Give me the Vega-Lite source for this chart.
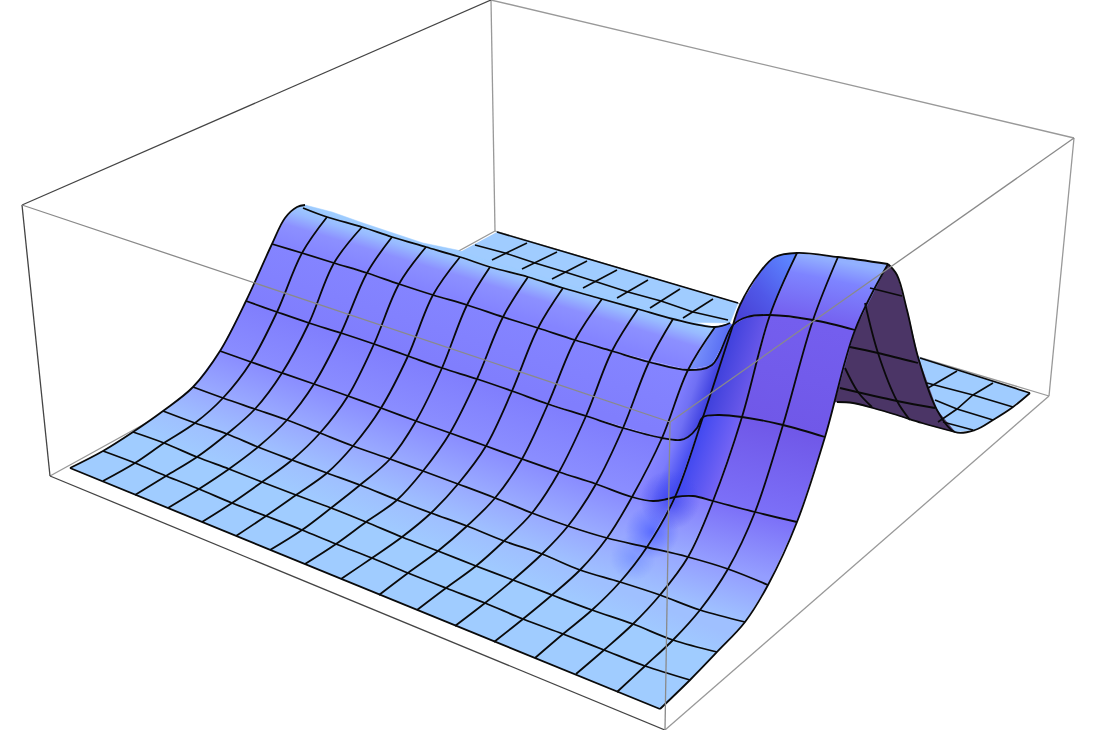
{"$schema":"https://vega.github.io/schema/vega-lite/v6.json","width":1095,"height":730,"padding":0,"autosize":{"type":"none"},"background":"white","config":{"view":{"stroke":null}},
"datasets":{
"cells":[
{"q":"bk","xs":[497,738,730,673,460],"ys":[232,303,323,322,252]},
{"q":"rf","xs":[918,1030,993,975,955,937],"ys":[357,393,420,430,432,410]},
{"q":"dk","xs":[888,897,907,918,937,955,922,897,873,853,837,825,840,870],"ys":[264,275,310,357,410,432,423,415,408,403,402,402,330,280]},
{"q":"cr","xs":[297,305,332,363,393,423,457,480,680,673,297],"ys":[207,205,212,223,233,243,250,258,318,321,208]},
{"q":"a02","xs":[70,236,417,660,690,717,552,402,262,133,103],"ys":[468,536,610,709,680,652,595,537,482,432,451]},
{"q":"a23","xs":[133,197,262,331,402,476,552,633,717,745,660,580,504,431,360,292,227,163],"ys":[432,457,482,508,537,566,595,624,652,622,595,570,541,513,485,460,434,411]},
{"q":"l34","xs":[163,227,292,360,431,504,580,607,532,458,390,320,255,193],"ys":[411,434,460,485,513,541,570,538,513,484,459,433,409,387]},
{"q":"l45","xs":[193,255,320,390,458,532,607,632,559,486,416,348,282,220],"ys":[387,409,433,459,484,513,538,497,472,446,421,396,373,351]},
{"q":"l56","xs":[220,282,348,416,486,559,632,662,586,512,442,374,309,246],"ys":[351,373,396,421,446,472,497,438,416,391,368,344,323,301]},
{"q":"l67","xs":[246,309,374,442,512,586,662,688,612,538,467,399,334,272],"ys":[301,323,344,368,391,416,438,370,351,328,305,284,263,244]},
{"q":"l78","xs":[272,334,399,467,538,612,688,715,638,563,490,426,362,305,297,285],"ys":[244,263,284,305,328,351,370,327,309,288,267,247,227,205,207,218]},
{"q":"r34","xs":[660,700,745,768,728,688],"ys":[595,610,622,585,569,557]},
{"q":"r45","xs":[688,728,768,797,755,713],"ys":[557,569,585,522,512,501]},
{"q":"r56","xs":[713,755,797,825,783,742],"ys":[501,512,522,437,425,417]},
{"q":"r67","xs":[742,783,825,855,813,770],"ys":[417,425,437,330,320,315]},
{"q":"r78","xs":[770,813,855,888,838,797],"ys":[315,320,330,264,257,253]},
{"q":"s34","xs":[580,620,647,607],"ys":[570,582,547,538]},
{"q":"s45","xs":[607,646,675,667,653,632],"ys":[538,547,497,499,501,497]},
{"q":"s56","xs":[632,653,667,675,703,697,688,680,662],"ys":[497,501,499,497,417,428,437,440,438]},
{"q":"s67","xs":[662,680,688,697,703,733,712,688],"ys":[438,440,437,428,417,325,365,370]},
{"q":"s78","xs":[688,712,733,730,715],"ys":[370,365,325,323,327]},
{"q":"t34","xs":[620,660,688,647],"ys":[582,595,557,547]},
{"q":"t45","xs":[647,688,713,693,675],"ys":[547,557,501,496,497]},
{"q":"t56","xs":[675,693,713,742,718,703],"ys":[497,496,501,417,415,417]},
{"q":"t67","xs":[703,718,742,770,747,733],"ys":[417,415,417,315,317,325]},
{"q":"t78","xs":[733,747,770,797,785,772,760,740],"ys":[325,317,315,253,254,258,272,305]},
{"q":"g1","xs":[640,700,700,640],"ys":[470,470,530,530]},
{"q":"g2","xs":[625,679,679,625],"ys":[505,505,559,559]},
{"q":"g3","xs":[610,656,656,610],"ys":[535,535,581,581]}
],
"mesh":[
{"l":"v0","xs":[70,660],"ys":[468,709]},
{"l":"v1","xs":[103,135,166,199,232,266,302,336,372,408,446,485,523,563,604,645,690],"ys":[451,463,476,489,503,516,530,544,558,573,588,603,619,634,650,666,680]},
{"l":"v2","xs":[133,164,197,229,262,296,331,366,402,438,476,513,552,592,633,673,717],"ys":[432,443,457,469,482,495,508,522,537,551,566,580,595,610,624,640,652]},
{"l":"v3","xs":[163,195,227,258,292,327,360,397,431,467,504,542,580,620,660,700,745],"ys":[411,423,434,447,460,473,485,500,513,526,541,554,570,582,595,610,622]},
{"l":"v4","xs":[193,223,255,287,320,353,390,423,458,495,532,568,607,646,688,728,768],"ys":[387,398,409,420,433,446,459,471,484,498,513,526,538,547,557,569,585]},
{"l":"v5","xs":[220,251,282,314,348,381,416,450,486,522,559,596,632,653,667,675,693,713,755,797],"ys":[351,362,373,384,396,408,421,433,446,459,472,484,497,501,499,497,496,501,512,522]},
{"l":"v6","xs":[246,277,309,341,374,408,442,477,512,548,586,623,662,680,688,697,703,718,742,783,825],"ys":[301,312,323,333,344,356,368,379,391,404,416,428,438,440,437,428,417,415,417,425,437]},
{"l":"v7","xs":[272,302,334,367,399,433,467,503,538,575,612,649,688,712,733,747,770,813,855],"ys":[244,253,263,273,284,295,305,317,328,340,351,362,370,365,325,317,315,320,330]},
{"l":"v8","xs":[303,327,362,392,426,460,490,528,563,602,638,673,715,730],"ys":[208,217,227,237,247,257,267,277,288,299,309,319,327,323]},
{"l":"u0","xs":[70,103,133,163,193,220,246,272,285,297,305],"ys":[468,451,432,411,387,351,301,244,218,207,205]},
{"l":"u1","xs":[103,135,164,195,223,251,277,302,327],"ys":[481,463,443,423,398,362,312,253,217]},
{"l":"u2","xs":[135,166,197,227,255,282,309,334,362],"ys":[495,476,457,434,409,373,323,263,227]},
{"l":"u3","xs":[168,199,229,258,287,314,341,367,392],"ys":[508,489,469,447,420,384,333,273,237]},
{"l":"u4","xs":[202,232,262,292,320,348,374,399,426],"ys":[522,503,482,460,433,396,344,284,247]},
{"l":"u5","xs":[236,266,296,327,353,381,408,433,460],"ys":[536,516,495,473,446,408,356,295,257]},
{"l":"u6","xs":[270,302,331,360,390,416,442,467,490],"ys":[550,530,508,485,459,421,368,305,267]},
{"l":"u7","xs":[305,336,366,397,423,450,477,503,528],"ys":[564,544,522,500,471,433,379,317,277]},
{"l":"u8","xs":[341,372,402,431,458,486,512,538,563],"ys":[579,558,537,513,484,446,391,328,288]},
{"l":"u9","xs":[379,408,438,467,495,522,548,575,602],"ys":[595,573,551,526,498,459,404,340,299]},
{"l":"u10","xs":[417,446,476,504,532,559,586,612,638],"ys":[610,588,566,541,513,472,416,351,309]},
{"l":"u11","xs":[455,485,513,542,568,596,623,649,673],"ys":[626,603,580,554,526,484,428,362,319]},
{"l":"u12","xs":[494,523,552,580,607,632,662,688,715],"ys":[642,619,595,570,538,497,438,370,327]},
{"l":"u13","xs":[535,563,592,620,647,675,703,733],"ys":[658,634,610,582,547,497,417,325]},
{"l":"u14","xs":[576,604,633,660,688,713,742,770,797],"ys":[674,650,624,595,557,501,417,315,253]},
{"l":"u15","xs":[617,645,673,700,728,755,783,813,838],"ys":[692,666,640,610,569,512,425,320,257]},
{"l":"u16","xs":[660,690,717,745,768,797,825,855,888],"ys":[709,680,652,622,585,522,437,330,264]},
{"l":"hump","xs":[733,740,760,775,797,838,888],"ys":[325,305,272,257,253,257,264]},
{"l":"backside","xs":[888,897,907,918,937,955,975,993,1013,1030],"ys":[264,275,310,357,410,432,430,420,407,393]},
{"l":"darkbase","xs":[837,853,873,897,922,955],"ys":[402,403,408,415,423,432]},
{"l":"d1","xs":[870,902],"ys":[288,296]},
{"l":"d2","xs":[850,878,918],"ys":[347,353,363]},
{"l":"d3","xs":[840,897,935],"ys":[388,401,408]},
{"l":"d4","xs":[865,878,897,910],"ys":[303,353,401,420]},
{"l":"d5","xs":[845,858,872],"ys":[368,392,407]}
],
"straight":[
{"l":"b0","xs":[497,738],"ys":[232,303]},
{"l":"b1","xs":[475,505,535,565,597,628,661,693,728],"ys":[245,253,263,272,282,292,301,312,320]},
{"l":"c1","xs":[527,492],"ys":[243,260]},
{"l":"c2","xs":[557,522],"ys":[252,269]},
{"l":"c3","xs":[587,552],"ys":[261,279]},
{"l":"c4","xs":[617,583],"ys":[270,288]},
{"l":"c5","xs":[648,617],"ys":[280,298]},
{"l":"c6","xs":[680,650],"ys":[289,308]},
{"l":"c7","xs":[713,683],"ys":[299,318]},
{"l":"f0","xs":[920,1030],"ys":[358,393]},
{"l":"f1","xs":[927,973,1013],"ys":[383,395,407]},
{"l":"f2","xs":[935,957,993],"ys":[400,409,420]},
{"l":"f3","xs":[943,973],"ys":[422,430]},
{"l":"g1","xs":[957,928],"ys":[371,388]},
{"l":"g2","xs":[993,973,957,938],"ys":[383,395,409,422]}
],
"box":[
{"e":"a","g":"back","x":491,"y":0},{"e":"a","g":"back","x":1074,"y":138},
{"e":"b","g":"back","x":491,"y":0},{"e":"b","g":"back","x":495,"y":231},
{"e":"c","g":"back","x":495,"y":231},{"e":"c","g":"back","x":50,"y":476},
{"e":"d","g":"back","x":495,"y":231},{"e":"d","g":"back","x":1049,"y":396},
{"e":"f","g":"back","x":1074,"y":138},{"e":"f","g":"back","x":1049,"y":396},
{"e":"h","g":"back","x":665,"y":730},{"e":"h","g":"back","x":1049,"y":396},
{"e":"i","g":"dark","x":491,"y":0},{"e":"i","g":"dark","x":22,"y":205},
{"e":"j","g":"dark","x":22,"y":205},{"e":"j","g":"dark","x":50,"y":476},
{"e":"k","g":"dark","x":50,"y":476},{"e":"k","g":"dark","x":665,"y":730},
{"e":"m","g":"front","x":22,"y":205},{"e":"m","g":"front","x":670,"y":422},
{"e":"n","g":"front","x":670,"y":422},{"e":"n","g":"front","x":1074,"y":138},
{"e":"o","g":"front","x":670,"y":422},{"e":"o","g":"front","x":665,"y":730}
]},
"encoding":{"x":{"field":"x","type":"quantitative","scale":{"domain":[0,1095],"nice":false,"zero":false},"axis":null},"y":{"field":"y","type":"quantitative","scale":{"domain":[730,0],"nice":false,"zero":false},"axis":null}},
"layer":[
{"data":{"name":"box"},"transform":[{"filter":{"field":"g","equal":"back"}}],"mark":{"type":"line","stroke":"#999999","strokeWidth":1.3},"encoding":{"detail":{"field":"e"}}},
{"data":{"name":"box"},"transform":[{"filter":{"field":"g","equal":"dark"}}],"mark":{"type":"line","stroke":"#444444","strokeWidth":1.3},"encoding":{"detail":{"field":"e"}}},
{"data":{"name":"cells"},"transform":[{"flatten":["xs","ys"],"as":["x","y"]},{"window":[{"op":"row_number","as":"i"}],"groupby":["q"]}],
"encoding":{"detail":{"field":"q"},"order":{"field":"i","type":"quantitative"}},
"layer":[
{"transform":[{"filter":{"field":"q","equal":"bk"}}],"mark":{"type":"line","fill":"#A0CCFF","stroke":"#A0CCFF","strokeWidth":0.5}},
{"transform":[{"filter":{"field":"q","equal":"rf"}}],"mark":{"type":"line","fill":"#A0CCFF","stroke":"#A0CCFF","strokeWidth":0.5}},
{"transform":[{"filter":{"field":"q","equal":"dk"}}],"mark":{"type":"line","fill":"#4B3566","stroke":"#4B3566","strokeWidth":0.5}},
{"transform":[{"filter":{"field":"q","equal":"cr"}}],"mark":{"type":"line","fill":"#9ECCFF","stroke":"#9ECCFF","strokeWidth":0.5}},
{"transform":[{"filter":{"field":"q","equal":"a02"}}],"mark":{"type":"line","fill":"#A0CCFF","stroke":"#A0CCFF","strokeWidth":0.5}},
{"transform":[{"filter":{"field":"q","equal":"a23"}}],"mark":{"type":"line","strokeWidth":0,"fill":{"gradient":"linear","x1":0,"y1":0.087,"x2":0.068,"y2":0.019,"stops":[{"offset":0,"color":"#A0CBFF"},{"offset":1,"color":"#9FC0FF"}]}}},
{"transform":[{"filter":{"field":"q","equal":"l34"}}],"mark":{"type":"line","strokeWidth":0,"fill":{"gradient":"linear","x1":0,"y1":0.131,"x2":0.096,"y2":0.025,"stops":[{"offset":0,"color":"#9FC0FF"},{"offset":1,"color":"#99AAFF"}]}}},
{"transform":[{"filter":{"field":"q","equal":"l45"}}],"mark":{"type":"line","strokeWidth":0,"fill":{"gradient":"linear","x1":0,"y1":0.1925,"x2":0.1205,"y2":0.05,"stops":[{"offset":0,"color":"#99AAFF"},{"offset":1,"color":"#8A8DFF"}]}}},
{"transform":[{"filter":{"field":"q","equal":"l56"}}],"mark":{"type":"line","strokeWidth":0,"fill":{"gradient":"linear","x1":0,"y1":0.255,"x2":0.145,"y2":0.0665,"stops":[{"offset":0,"color":"#8A8DFF"},{"offset":1,"color":"#807EFD"}]}}},
{"transform":[{"filter":{"field":"q","equal":"l67"}}],"mark":{"type":"line","strokeWidth":0,"fill":{"gradient":"linear","x1":0,"y1":0.294,"x2":0.159,"y2":0.073,"stops":[{"offset":0,"color":"#807EFD"},{"offset":1,"color":"#8484FF"}]}}},
{"transform":[{"filter":{"field":"q","equal":"l78"}}],"mark":{"type":"line","strokeWidth":0,"fill":{"gradient":"linear","x1":0,"y1":0.232,"x2":0.135,"y2":0.063,"stops":[{"offset":0,"color":"#8484FF"},{"offset":0.5,"color":"#8C90FF"},{"offset":0.8,"color":"#98BAFF"},{"offset":1,"color":"#9ECBFF"}]}}},
{"transform":[{"filter":{"field":"q","equal":"r34"}}],"mark":{"type":"line","strokeWidth":0,"fill":{"gradient":"linear","x1":0,"y1":0.585,"x2":0.285,"y2":0.013,"stops":[{"offset":0,"color":"#9FC0FF"},{"offset":1,"color":"#949EFF"}]}}},
{"transform":[{"filter":{"field":"q","equal":"r45"}}],"mark":{"type":"line","strokeWidth":0,"fill":{"gradient":"linear","x1":0,"y1":0.667,"x2":0.226,"y2":0,"stops":[{"offset":0,"color":"#949EFF"},{"offset":1,"color":"#7C70F8"}]}}},
{"transform":[{"filter":{"field":"q","equal":"r56"}}],"mark":{"type":"line","strokeWidth":0,"fill":{"gradient":"linear","x1":0,"y1":0.8,"x2":0.217,"y2":-0.011,"stops":[{"offset":0,"color":"#7C70F8"},{"offset":1,"color":"#7058E8"}]}}},
{"transform":[{"filter":{"field":"q","equal":"r67"}}],"mark":{"type":"line","strokeWidth":0,"fill":{"gradient":"linear","x1":0,"y1":0.836,"x2":0.189,"y2":-0.013,"stops":[{"offset":0,"color":"#7058E8"},{"offset":1,"color":"#745EEE"}]}}},
{"transform":[{"filter":{"field":"q","equal":"r78"}}],"mark":{"type":"line","strokeWidth":0,"fill":{"gradient":"linear","x1":0,"y1":0.805,"x2":0.245,"y2":0.005,"stops":[{"offset":0,"color":"#745EEE"},{"offset":0.7,"color":"#7E84FF"},{"offset":1,"color":"#92B0FF"}]}}},
{"transform":[{"filter":{"field":"q","equal":"s34"}}],"mark":{"type":"line","strokeWidth":0,"fill":{"gradient":"linear","x1":0,"y1":0.727,"x2":0.354,"y2":-0.022,"stops":[{"offset":0,"color":"#9FC0FF"},{"offset":1,"color":"#99AAFF"}]}}},
{"transform":[{"filter":{"field":"q","equal":"t34"}}],"mark":{"type":"line","strokeWidth":0,"fill":{"gradient":"linear","x1":0,"y1":0.73,"x2":0.322,"y2":-0.03,"stops":[{"offset":0,"color":"#9FC0FF"},{"offset":1,"color":"#98A8FF"}]}}},
{"transform":[{"filter":{"field":"q","equal":"s45"}}],"mark":{"type":"line","strokeWidth":0,"fill":{"gradient":"linear","x1":0,"y1":0.82,"x2":0.232,"y2":-0.036,"stops":[{"offset":0,"color":"#99AAFF"},{"offset":1,"color":"#8A8DFF"}]}}},
{"transform":[{"filter":{"field":"q","equal":"t45"}}],"mark":{"type":"line","strokeWidth":0,"fill":{"gradient":"linear","x1":0,"y1":0.836,"x2":0.226,"y2":-0.035,"stops":[{"offset":0,"color":"#9AACFF"},{"offset":1,"color":"#8680FC"}]}}},
{"transform":[{"filter":{"field":"q","equal":"s56"}}],"mark":{"type":"line","strokeWidth":0,"fill":{"gradient":"linear","x1":0,"y1":0.95,"x2":0.489,"y2":1.19,"stops":[{"offset":0,"color":"#8A88FF"},{"offset":0.45,"color":"#7C7CFC"},{"offset":1,"color":"#4048F0"}]}}},
{"transform":[{"filter":{"field":"q","equal":"s67"}}],"mark":{"type":"line","strokeWidth":0,"fill":{"gradient":"linear","x1":0,"y1":0.98,"x2":0.37,"y2":1.18,"stops":[{"offset":0,"color":"#8280FF"},{"offset":0.45,"color":"#7070F4"},{"offset":1,"color":"#3E40E0"}]}}},
{"transform":[{"filter":{"field":"q","equal":"s78"}}],"mark":{"type":"line","strokeWidth":0,"fill":{"gradient":"linear","x1":0,"y1":0.3,"x2":1,"y2":0.6,"stops":[{"offset":0,"color":"#86A0FF"},{"offset":1,"color":"#4C60F0"}]}}},
{"transform":[{"filter":{"field":"q","equal":"t56"}}],"mark":{"type":"line","strokeWidth":0,"fill":{"gradient":"linear","x1":0,"y1":0.95,"x2":0.495,"y2":1.167,"stops":[{"offset":0,"color":"#4048F0"},{"offset":1,"color":"#7464F4"}]}}},
{"transform":[{"filter":{"field":"q","equal":"t67"}}],"mark":{"type":"line","strokeWidth":0,"fill":{"gradient":"linear","x1":0,"y1":1,"x2":0.477,"y2":1.225,"stops":[{"offset":0,"color":"#3E40DC"},{"offset":1,"color":"#6C5AEA"}]}}},
{"transform":[{"filter":{"field":"q","equal":"t78"}}],"mark":{"type":"line","strokeWidth":0,"fill":{"gradient":"linear","x1":0,"y1":1,"x2":0.9,"y2":0.1,"stops":[{"offset":0,"color":"#463CD0"},{"offset":0.5,"color":"#5058E8"},{"offset":1,"color":"#5C84FF"}]}}},
{"transform":[{"filter":{"field":"q","equal":"g3"}}],"mark":{"type":"line","strokeWidth":0,"fill":{"gradient":"radial","x1":0.5,"y1":0.5,"r1":0,"x2":0.5,"y2":0.5,"r2":0.5,"stops":[{"offset":0,"color":"rgba(90,120,255,0.45)"},{"offset":1,"color":"rgba(90,120,255,0)"}]}}},
{"transform":[{"filter":{"field":"q","equal":"g2"}}],"mark":{"type":"line","strokeWidth":0,"fill":{"gradient":"radial","x1":0.5,"y1":0.5,"r1":0,"x2":0.5,"y2":0.5,"r2":0.5,"stops":[{"offset":0,"color":"rgba(70,90,255,0.75)"},{"offset":1,"color":"rgba(70,90,255,0)"}]}}},
{"transform":[{"filter":{"field":"q","equal":"g1"}}],"mark":{"type":"line","strokeWidth":0,"fill":{"gradient":"radial","x1":0.5,"y1":0.5,"r1":0,"x2":0.5,"y2":0.5,"r2":0.5,"stops":[{"offset":0,"color":"rgba(64,72,240,0.9)"},{"offset":1,"color":"rgba(64,72,240,0)"}]}}}
]},
{"data":{"name":"mesh"},"transform":[{"flatten":["xs","ys"],"as":["x","y"]},{"window":[{"op":"row_number","as":"i"}],"groupby":["l"]}],"mark":{"type":"line","stroke":"#0a0a0a","strokeWidth":1.8,"interpolate":"catmull-rom"},"encoding":{"detail":{"field":"l"},"order":{"field":"i","type":"quantitative"}}},
{"data":{"name":"straight"},"transform":[{"flatten":["xs","ys"],"as":["x","y"]},{"window":[{"op":"row_number","as":"i"}],"groupby":["l"]}],"mark":{"type":"line","stroke":"#0a0a0a","strokeWidth":1.6},"encoding":{"detail":{"field":"l"},"order":{"field":"i","type":"quantitative"}}},
{"data":{"name":"box"},"transform":[{"filter":{"field":"g","equal":"front"}}],"mark":{"type":"line","stroke":"#8a8a8a","strokeWidth":1.3},"encoding":{"detail":{"field":"e"}}}
]}
